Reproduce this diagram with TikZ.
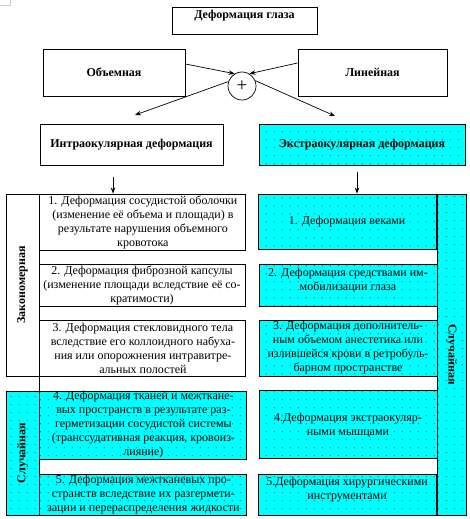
\documentclass[tikz,border=0pt]{standalone}
\usepackage{fontspec}
\setmainfont{Liberation Serif}
\usetikzlibrary{positioning,arrows.meta,patterns.meta}

\definecolor{aqua}{RGB}{0,255,255}
\tikzdeclarepattern{
  name=sparsedots,
  type=uncolored,
  bottom left={(0pt,0pt)},
  top right={(7.5pt,7.5pt)},
  tile size={(7.5pt,7.5pt)},
  code={\fill (3pt,3pt) rectangle (3.9pt,3.9pt);}
}

\begin{document}
\begin{tikzpicture}[x=1pt, y=-1pt,
    every node/.style={font=\fontsize{12}{14}\selectfont},
    box/.style={draw, line width=0.9pt, align=center, inner xsep=2pt, inner ysep=0pt},
    whitebox/.style={box, fill=white},
    dotbox/.style={box, fill=aqua, postaction={pattern=sparsedots, pattern color=black}},
    head/.style={font=\fontsize{12}{14}\selectfont\bfseries},
    colhead/.style={inner sep=0pt, font=\fontsize{12}{14}\selectfont\bfseries},
    arr/.style={-{Stealth[length=6pt,width=4.5pt]}, line width=0.7pt}]
  \useasboundingbox (0,0) rectangle (470,519);
  \draw[gray!40] (0,5) -- (10,5) -- (10,0);

  \node (eye) [box, head, minimum width=145, minimum height=27] at (244.5,20.5) {Деформация глаза\\[-2pt]\mbox{}};
  \node (obem) [box, head, minimum width=142, minimum height=47] at (114,72.5) {Объемная};
  \node (lin) [box, head, minimum width=149, minimum height=47] at (372.5,72.5) {Линейная};
  \node (plus) [draw, circle, line width=0.7pt, minimum size=28, inner sep=0pt,
    font=\fontsize{19}{19}\selectfont] at (242,86) {+};
  \node (intra) [box, head, minimum width=183, minimum height=41] at (131.5,144.5) {Интраокулярная деформация};
  \node (extra) [dotbox, head, minimum width=206, minimum height=41] at (362,144.5) {Экстраокулярная деформация};

  \coordinate (lend) at (135,115);
  \coordinate (rend) at (335,116);
  \draw[arr] ([yshift=8.5pt]obem.east) -- (plus.121);
  \draw[arr] ([yshift=9.5pt]lin.west) -- (plus.59);
  \draw[arr] (plus.162) -- (lend);
  \draw[arr] (plus.22) -- (rend);

  % intraocular part
  \node (zak) [whitebox, colhead, minimum width=33, minimum height=182] at (22.5,285) {\rotatebox{90}{Закономерная}};
  \node (l1) [whitebox, anchor=north west, minimum width=206, minimum height=56] at (zak.north east)
    {1. Деформация сосудистой оболочки\\(изменение её объема и площади) в\\результате нарушения объемного\\кровотока};
  \node (l2) [whitebox, minimum width=206, minimum height=42] at (142,285)
    {2. Деформация фиброзной капсулы\\(изменение площади вследствие её со-\\кратимости)};
  \node (l3) [whitebox, anchor=south west, minimum width=206, minimum height=56] at (zak.south east)
    {3. Деформация стекловидного тела\\вследствие его коллоидного набуха-\\ния или опорожнения интравитре-\\альных полостей};

  \node (slul) [dotbox, colhead, minimum width=33, minimum height=124] at (22.5,453) {\rotatebox{90}{Случайная}};
  \node (l4) [dotbox, anchor=north west, minimum width=207, minimum height=68] at (slul.north east)
    {4. Деформация тканей и межткане-\\вых пространств в результате раз-\\герметизации сосудистой системы\\(транссудативная реакция, кровоиз-\\лияние)};
  \node (l5) [dotbox, anchor=south west, minimum width=207, minimum height=41] at (slul.south east)
    {5. Деформация межтканевых про-\\странств вследствие их разгермети-\\зации и перераспределения жидкости};
  \draw[line width=0.9pt] (zak.south east) -- (slul.north east);

  % extraocular part
  \node (slur) [dotbox, colhead, minimum width=29, minimum height=321] at (451.5,354.5) {\rotatebox{-90}{Случайная}};
  \node (r1) [dotbox, anchor=north east, minimum width=178, minimum height=55] at (slur.north west)
    {1. Деформация веками};
  \node (r2) [dotbox, minimum width=178, minimum height=42] at (348,285)
    {2. Деформация средствами им-\\мобилизации глаза\\[-2pt]\mbox{}};
  \node (r3) [dotbox, minimum width=178, minimum height=56] at (348,348)
    {3. Деформация дополнитель-\\ным объемом анестетика или\\излившейся крови в ретробуль-\\барном пространстве};
  \node (r4) [dotbox, minimum width=178, minimum height=68] at (348,424)
    {\mbox{}\\[-2pt]4.Деформация экстраокуляр-\\ными мышцами};
  \node (r5) [dotbox, anchor=south east, minimum width=178, minimum height=41] at (slur.south west)
    {5.Деформация хирургическими\\инструментами\\[-2pt]\mbox{}};

  \coordinate (la) at (113,177);
  \coordinate (ra) at (357,172);
  \draw[arr] (la) -- (la |- l1.north);
  \draw[arr] (ra) -- (ra |- r1.north);
\end{tikzpicture}
\end{document}
